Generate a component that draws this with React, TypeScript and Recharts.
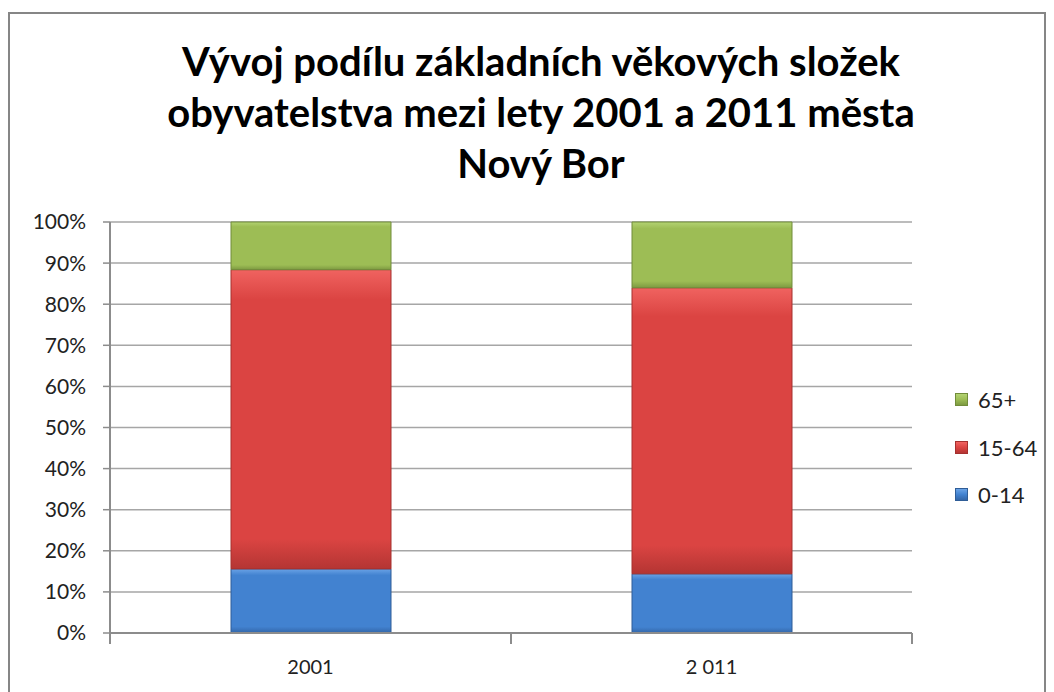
import { Bar, BarChart, CartesianGrid, XAxis, YAxis } from 'recharts';

const years = ['2001', '2 011'];
const age0to14 = [15.6, 14.4];
const age15to64 = [72.8, 69.6];
const age65plus = [11.6, 16.0];
const yTicks = [0, 10, 20, 30, 40, 50, 60, 70, 80, 90, 100];

const SERIES = [
    { key: 'a', name: '0-14', id: 'gBlue', stops: ['#6aa3e6', '#4282d0', '#3366a8'], edge: '#2f5d97' },
    { key: 'b', name: '15-64', id: 'gRed', stops: ['#f06360', '#db4442', '#b43533'], edge: '#a5302e' },
    { key: 'c', name: '65+', id: 'gGreen', stops: ['#b3d372', '#9dbd55', '#7d9a41'], edge: '#718c3a' },
];

const data = years.map((y, i) => ({
    year: y,
    a: age0to14[i],
    b: age15to64[i],
    c: age65plus[i],
}));

const FONT = 'Lato, "Open Sans", sans-serif';

function CategoryTick(props: any) {
    const { x, y, payload, index } = props;
    const half = 200.5;
    return (
        <g>
            <line x1={x - half} y1={y - 8} x2={x - half} y2={y + 3} stroke="#8c8c8c" strokeWidth={2} />
            {index === years.length - 1 && (
                <line x1={x + half} y1={y - 8} x2={x + half} y2={y + 3} stroke="#8c8c8c" strokeWidth={2} />
            )}
            <text x={x} y={y + 33} textAnchor="middle" fontSize={20} fill="#222" fontFamily={FONT}>
                {payload.value}
            </text>
        </g>
    );
}

function LegendBox() {
    const items = [...SERIES].reverse();
    return (
        <div
            style={{
                position: 'absolute',
                left: 945,
                top: 362,
                fontFamily: FONT,
                fontSize: 22,
                color: '#222',
            }}
        >
            {items.map((s) => (
                <div key={s.key} style={{ display: 'flex', alignItems: 'center', height: 47.5 }}>
                    <span
                        style={{
                            width: 11,
                            height: 11,
                            marginRight: 10,
                            border: `1px solid ${s.edge}`,
                            background: `linear-gradient(${s.stops[0]}, ${s.stops[1]}, ${s.stops[2]})`,
                        }}
                    />
                    <span>{s.name}</span>
                </div>
            ))}
        </div>
    );
}

export default function App() {
    return (
        <div style={{ paddingTop: 4 }}>
            <div
                style={{
                    position: 'relative',
                    width: 1034,
                    height: 690,
                    border: '2px solid #868686',
                    background: '#fff',
                    fontFamily: FONT,
                }}
            >
                <div
                    style={{
                        position: 'absolute',
                        left: 0,
                        top: 22,
                        width: 1062,
                        textAlign: 'center',
                        fontWeight: 700,
                        fontSize: 40,
                        lineHeight: '51px',
                        color: '#000',
                    }}
                >
                    Vývoj podílu základních věkových složek
                    <br />
                    obyvatelstva mezi lety 2001 a 2011 města
                    <br />
                    Nový Bor
                </div>
                <div style={{ position: 'absolute', left: 0, top: 0 }}>
                    <BarChart
                        width={1034}
                        height={680}
                        data={data}
                        margin={{ top: 208, right: 132, bottom: 21, left: 0 }}
                        barSize={160}
                    >
                        <defs>
                            {SERIES.map((s) => (
                                <linearGradient key={s.id} id={s.id} x1="0" y1="0" x2="0" y2="1">
                                    <stop offset="0%" stopColor={s.stops[0]} />
                                    <stop offset="10%" stopColor={s.stops[1]} />
                                    <stop offset="90%" stopColor={s.stops[1]} />
                                    <stop offset="100%" stopColor={s.stops[2]} />
                                </linearGradient>
                            ))}
                        </defs>
                        <CartesianGrid vertical={false} stroke="#a6a6a6" strokeWidth={1.5} />
                        <XAxis
                            dataKey="year"
                            height={40}
                            axisLine={{ stroke: '#8c8c8c', strokeWidth: 2 }}
                            tickLine={false}
                            tick={<CategoryTick />}
                            interval={0}
                        />
                        <YAxis
                            width={100}
                            domain={[0, 100]}
                            ticks={yTicks}
                            tickFormatter={(v) => `${v}%`}
                            axisLine={{ stroke: '#8c8c8c', strokeWidth: 2 }}
                            tickLine={{ stroke: '#8c8c8c', strokeWidth: 1.5 }}
                            tickSize={7}
                            tickMargin={17}
                            tick={{ fontSize: 21, fill: '#222', fontFamily: FONT }}
                        />
                        {SERIES.map((s) => (
                            <Bar
                                key={s.key}
                                dataKey={s.key}
                                name={s.name}
                                stackId="s"
                                fill={`url(#${s.id})`}
                                stroke={s.edge}
                                strokeWidth={1}
                                isAnimationActive={false}
                            />
                        ))}
                    </BarChart>
                </div>
                <LegendBox />
            </div>
        </div>
    );
}
